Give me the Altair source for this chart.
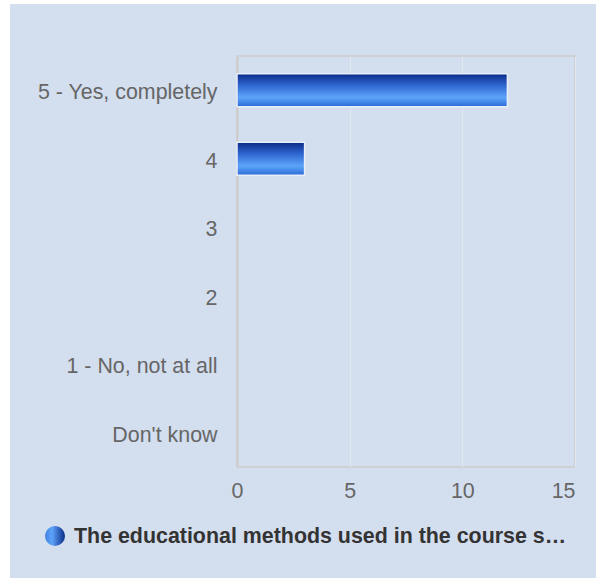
import altair as alt
import pandas as pd

categories = ["5 - Yes, completely", "4", "3", "2", "1 - No, not at all", "Don't know"]
counts = [12, 3, 0, 0, 0, 0]
series_name = ["The educational methods used in the course s\u2026"]
x_ticks = [0, 5, 10, 15]

bars_df = pd.DataFrame({"answer": categories, "count": counts})
legend_df = pd.DataFrame({"label": series_name})

W, H = 338, 411
PAD = {"left": 237, "top": 56, "right": 21, "bottom": 111}
FS = 21.4

bar_gradient = alt.LinearGradient(
    gradient="linear", x1=0, y1=0, x2=0, y2=1,
    stops=[
        alt.GradientStop(color="#0b2a86", offset=0),
        alt.GradientStop(color="#2f66d0", offset=0.35),
        alt.GradientStop(color="#5da4fa", offset=0.72),
        alt.GradientStop(color="#2a6ad6", offset=1),
    ],
)
dot_gradient = alt.LinearGradient(
    gradient="linear", x1=0, y1=0, x2=1, y2=0,
    stops=[
        alt.GradientStop(color="#3f7fe0", offset=0),
        alt.GradientStop(color="#5da4fa", offset=0.35),
        alt.GradientStop(color="#0b2a86", offset=1),
    ],
)

strip_top = alt.Chart(legend_df).mark_rect(color="white").encode(
    x=alt.value(-PAD["left"] - 5),
    x2=alt.value(596 - PAD["left"] + 5),
    y=alt.value(-PAD["top"] - 5),
    y2=alt.value(4 - PAD["top"]),
)
strip_left = alt.Chart(legend_df).mark_rect(color="white").encode(
    x=alt.value(-PAD["left"] - 5),
    x2=alt.value(10 - PAD["left"]),
    y=alt.value(-PAD["top"] - 5),
    y2=alt.value(578 - PAD["top"] + 5),
)

bars = alt.Chart(bars_df).transform_filter("datum.count > 0").mark_bar(
    color=bar_gradient, size=33, stroke="#e8eefa", strokeWidth=1.5
).encode(
    y=alt.Y("answer:N", sort=categories, title=None,
            scale=alt.Scale(domain=categories, paddingInner=0.5, paddingOuter=0.25),
            axis=alt.Axis(labelFontSize=FS, labelColor="#666666", labelFont="Liberation Sans",
                          labelPadding=20, labelOffset=3, ticks=False, domain=True,
                          domainColor="#cccccc", domainWidth=2, grid=False)),
    x=alt.X("count:Q", title=None,
            scale=alt.Scale(domain=[0, 15], nice=False),
            axis=alt.Axis(values=x_ticks, labelFontSize=FS, labelColor="#666666",
                          labelFont="Liberation Sans", labelPadding=13, ticks=False,
                          labelFlush=False,
                          labelAlign=alt.expr(f"datum.value >= {x_ticks[-1]} ? 'right' : 'center'"),
                          domain=False, grid=True,
                          gridColor="#e2e6ee", gridWidth=1)),
)

dot = alt.Chart(legend_df).mark_point(
    filled=True, shape="circle", size=400, color=dot_gradient, opacity=1
).encode(
    x=alt.value(55 - PAD["left"]),
    y=alt.value(536 - PAD["top"]),
)

legend_text = alt.Chart(legend_df).mark_text(
    align="left", baseline="middle", fontSize=FS, fontWeight="bold",
    font="Liberation Sans", color="#333333",
).encode(
    x=alt.value(74 - PAD["left"]),
    y=alt.value(537 - PAD["top"]),
    text="label:N",
)

chart = alt.layer(bars, dot, legend_text, strip_top, strip_left).properties(
    width=W, height=H,
    autosize=alt.AutoSizeParams(type="none"),
    padding=PAD,
    background="#d3deef",
).configure_view(
    stroke="#cccccc", strokeWidth=1.5,
)

chart.save("out.html", embed_options={"renderer": "svg", "actions": False})
